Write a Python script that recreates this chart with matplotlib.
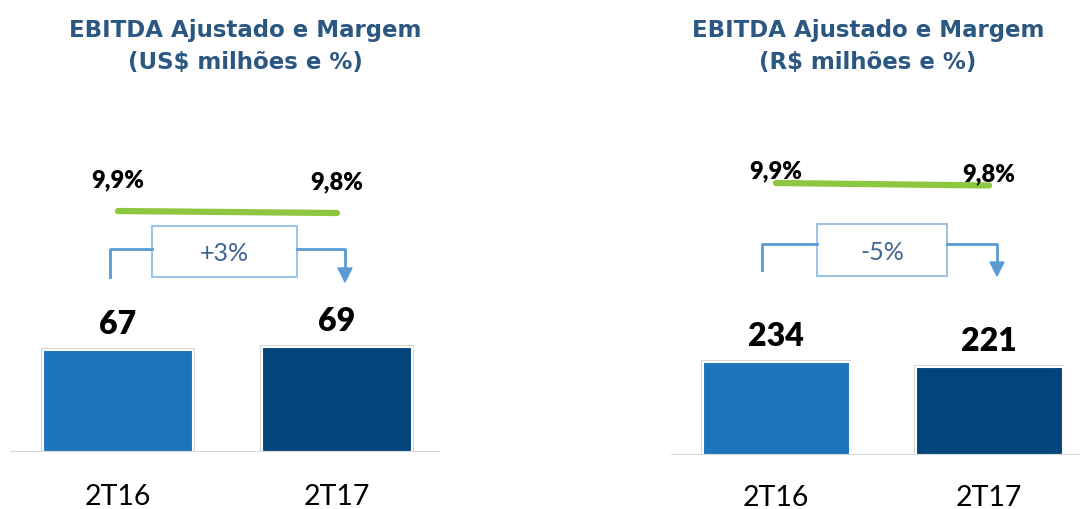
import matplotlib
matplotlib.use("Agg")
import matplotlib.pyplot as plt
from matplotlib.lines import Line2D
from matplotlib.patches import Rectangle, Polygon

plt.rcParams['font.family'] = ['Lato', 'DejaVu Sans']

# dados
periodos = ["2T16", "2T17"]
ebitda_usd = [67, 69]
ebitda_brl = [234, 221]
margem_usd = [9.9, 9.8]
margem_brl = [9.9, 9.8]
variacao_usd = "+3%"
variacao_brl = "-5%"
titulo = "EBITDA Ajustado e Margem"
subtitulo_usd = "(US$ milhões e %)"
subtitulo_brl = "(R$ milhões e %)"

W, H = 1080, 510
fig = plt.figure(figsize=(W / 100, H / 100), dpi=100)

cor_bar = ["#1c75bc", "#01457c"]
cor_titulo = "#2b5783"
cor_seta = "#5b9bd5"
cor_caixa = "#9dc3e6"


def fx(x):
    return x / W


def fy(y):
    return 1 - y / H


def painel(x0, x1, base, centro0, passo, largura_px, px_unid, valores,
           margens, y_m0, px_m, dy_val, dy_m, pad):
    topo = 100
    ax = fig.add_axes([fx(x0), fy(base), (x1 - x0) / W, (base - topo) / H])
    ax.set_xlim((x0 - centro0) / passo, (x1 - centro0) / passo)
    ax.set_ylim(0, (base - topo) / px_unid)
    pos = list(range(len(valores)))
    barras = ax.bar(pos, valores, width=largura_px / passo, color=cor_bar,
                    edgecolor="white", linewidth=1.5, zorder=3)
    for b in barras:
        sombra = Rectangle((b.get_x() - 0.008, 0), b.get_width() + 0.016,
                           b.get_height() + 2 / px_unid, color="#d4d4d4",
                           zorder=2, linewidth=0)
        ax.add_patch(sombra)
    for p, v in zip(pos, valores):
        ax.annotate(str(v), (p, v), xytext=(0, dy_val), textcoords="offset points",
                    ha="center", va="bottom", fontsize=23, fontweight="heavy",
                    color="black")
    ax.axhline(0, color="#d9d9d9", lw=1.5, zorder=4)
    for s in ax.spines.values():
        s.set_visible(False)
    ax.set_xticks(pos)
    ax.set_xticklabels(periodos, fontsize=20.5)
    ax.tick_params(axis="x", length=0, pad=pad)
    ax.set_yticks([])

    ax2 = ax.twinx()
    lo = margens[0] - (base - y_m0) / px_m
    ax2.set_ylim(lo, lo + (base - topo) / px_m)
    ax2.plot(pos, margens, color="#8dc63f", lw=4.5, solid_capstyle="round")
    for s in ax2.spines.values():
        s.set_visible(False)
    ax2.set_yticks([])
    for p, m in enumerate(margens):
        ax2.annotate(f"{m:.1f}%".replace(".", ","), (p, m), xytext=(0, dy_m),
                     textcoords="offset points", ha="center", va="bottom",
                     fontsize=17, fontweight="heavy", color="black")
    return ax, ax2


painel(10, 440, 453, 118, 219, 150, 1.52, ebitda_usd,
       margem_usd, 212, 20, 9, 15, 22)
painel(671, 1080, 456, 776, 213, 147, 0.397, ebitda_brl,
       margem_brl, 184, 25, 9, 1, 21)

# títulos
for cx, sub in [(245, subtitulo_usd), (868, subtitulo_brl)]:
    fig.text(fx(cx), fy(31), titulo, ha="center", va="center", fontsize=16.5,
             fontweight="bold", color=cor_titulo, family="DejaVu Sans")
    fig.text(fx(cx), fy(62), sub, ha="center", va="center", fontsize=16.5,
             fontweight="bold", color=cor_titulo, family="DejaVu Sans")

# setas de variação
setas = [
    (110, 345, (152, 227, 297, 278), 250, 283, 278, variacao_usd),
    (762, 997, (817, 225, 947, 277), 245, 277, 271, variacao_brl),
]
for xa, xb, (bx0, by0, bx1, by1), yl, yp, ye, txt in setas:
    fig.add_artist(Line2D([fx(xa), fx(xa), fx(bx0)], [fy(ye), fy(yl), fy(yl)],
                          transform=fig.transFigure, color=cor_seta, lw=2))
    fig.add_artist(Line2D([fx(bx1), fx(xb), fx(xb)], [fy(yl), fy(yl), fy(yp - 12)],
                          transform=fig.transFigure, color=cor_seta, lw=2))
    fig.add_artist(Polygon([(fx(xb - 7), fy(yp - 14)), (fx(xb + 7), fy(yp - 14)),
                            (fx(xb), fy(yp))], closed=True,
                           transform=fig.transFigure, color=cor_seta))
    fig.add_artist(Rectangle((fx(bx0), fy(by1)), (bx1 - bx0) / W,
                             (by1 - by0) / H, transform=fig.transFigure,
                             facecolor="white", edgecolor=cor_caixa, lw=1.5))
    fig.text(fx((bx0 + bx1) / 2), fy((by0 + by1) / 2 + 1), txt, ha="center",
             va="center", fontsize=18, color="#3d6593", fontweight="normal")

fig.savefig("out.png", dpi=100)
